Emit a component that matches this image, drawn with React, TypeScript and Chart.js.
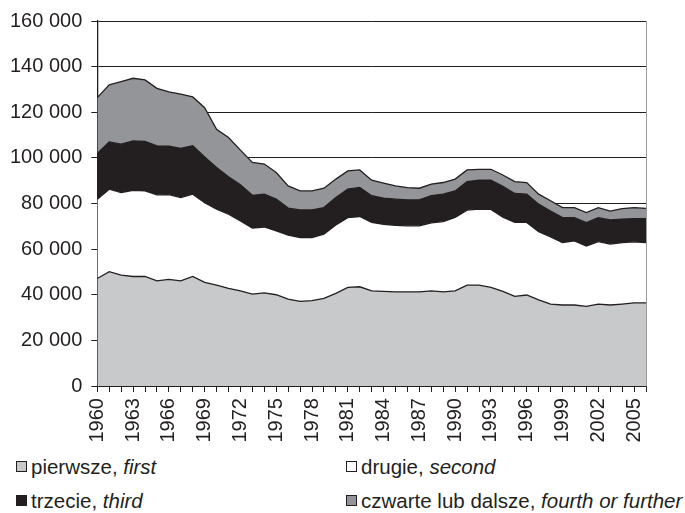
import React, { useEffect, useRef } from "react";
import { Chart, registerables } from "chart.js";

Chart.register(...registerables);

const years = [
  "1960", "1961", "1962", "1963", "1964", "1965", "1966", "1967", "1968", "1969",
  "1970", "1971", "1972", "1973", "1974", "1975", "1976", "1977", "1978", "1979",
  "1980", "1981", "1982", "1983", "1984", "1985", "1986", "1987", "1988", "1989",
  "1990", "1991", "1992", "1993", "1994", "1995", "1996", "1997", "1998", "1999",
  "2000", "2001", "2002", "2003", "2004", "2005", "2006",
];

const labeledYears = [
  "1960", "1963", "1966", "1969", "1972", "1975", "1978", "1981",
  "1984", "1987", "1990", "1993", "1996", "1999", "2002", "2005",
];

const first = [
  47100, 50100, 48600, 48000, 48000, 46100, 46700, 46100, 48000, 45400,
  44200, 42800, 41700, 40300, 40800, 40000, 38100, 37100, 37400, 38400,
  40600, 43200, 43500, 41700, 41500, 41300, 41300, 41300, 41700, 41300,
  41700, 44200, 44200, 43200, 41500, 39300, 39900, 37800, 35900, 35500,
  35500, 34900, 35900, 35500, 35900, 36400, 36400,
];

const second = [
  34800, 36200, 36200, 37800, 37500, 37700, 37200, 36500, 36100, 35000,
  33300, 32500, 30700, 28900, 28900, 28000, 28000, 28000, 27700, 28200,
  30000, 30600, 30800, 30000, 29400, 29100, 28900, 28900, 29800, 30800,
  32200, 32900, 33300, 34200, 32500, 32400, 31800, 29900, 29500, 27400,
  28100, 26500, 27400, 26700, 27000, 26800, 26500,
];

const third = [
  20000, 20700, 21200, 21600, 21700, 21500, 21200, 21600, 21200, 20000,
  18300, 16400, 15800, 14400, 14400, 13900, 11900, 12100, 12100, 11600,
  12000, 12500, 12700, 11700, 11400, 11500, 11400, 11400, 11900, 12000,
  11600, 12500, 12700, 12800, 13500, 12700, 12400, 12000, 11300, 10900,
  10200, 10200, 10500, 10600, 10200, 10200, 10500,
];

const fourth = [
  24500, 25000, 27400, 27500, 27000, 25200, 23800, 23700, 21400, 21600,
  16700, 17200, 15200, 14400, 13200, 11700, 9700, 8300, 8300, 8500,
  8100, 8000, 7700, 6800, 6600, 5800, 5400, 5100, 5100, 5100,
  5200, 5100, 4800, 4800, 5000, 5200, 5100, 4400, 4500, 4400,
  4400, 4400, 4400, 3900, 4700, 4800, 4500,
];

const seriesNames = [
  { pl: "pierwsze, ", en: "first" },
  { pl: "drugie, ", en: "second" },
  { pl: "trzecie, ", en: "third" },
  { pl: "czwarte lub dalsze, ", en: "fourth or further" },
];

const colors = ["#c8c9cb", "#ffffff", "#231f20", "#939598"];
const ink = "#231f20";
const font = "'Liberation Sans', Arial, sans-serif";
const tickLen = 6;

function fmt(v: number) {
  return String(v).replace(/\B(?=(\d{3})+(?!\d))/g, " ");
}

const rightBorder = {
  id: "rightBorder",
  afterDatasetsDraw(chart: any) {
    const { ctx, chartArea } = chart;
    ctx.save();
    ctx.strokeStyle = "#9a9a9a";
    ctx.lineWidth = 1;
    ctx.beginPath();
    ctx.moveTo(chartArea.right + 0.5, chartArea.top);
    ctx.lineTo(chartArea.right + 0.5, chartArea.bottom);
    ctx.stroke();
    ctx.restore();
  },
};

export default function App() {
  const ref = useRef<HTMLCanvasElement | null>(null);

  useEffect(() => {
    if (!ref.current) return;
    const data = [first, second, third, fourth];
    const chart = new Chart(ref.current, {
      type: "line",
      data: {
        labels: years,
        datasets: data.map((d, i) => ({
          label: seriesNames[i].pl + seriesNames[i].en,
          data: d,
          backgroundColor: colors[i],
          borderColor: ink,
          borderWidth: 1.3,
          pointRadius: 0,
          tension: 0,
          fill: i === 0 ? "origin" : "-1",
        })),
      },
      options: {
        animation: false,
        responsive: false,
        maintainAspectRatio: false,
        layout: { padding: { left: 1, right: 39, top: 14, bottom: 3.5 } },
        plugins: {
          legend: { display: false },
          tooltip: { enabled: false },
        },
        scales: {
          x: {
            offset: false,
            grid: {
              drawOnChartArea: false,
              drawTicks: true,
              tickLength: tickLen,
              color: ink,
            },
            border: { color: ink, width: 1.3 },
            ticks: {
              autoSkip: false,
              maxRotation: 90,
              minRotation: 90,
              padding: 6,
              color: ink,
              font: { family: font, size: 20 },
              callback: (_v: any, idx: number) =>
                labeledYears.includes(years[idx]) ? years[idx] : "",
            },
          },
          y: {
            stacked: true,
            min: 0,
            max: 160000,
            grid: { color: ink, lineWidth: 1, tickLength: tickLen },
            border: { color: ink, width: 1.3 },
            ticks: {
              stepSize: 20000,
              padding: 9,
              color: ink,
              font: { family: font, size: 20 },
              callback: (v: any) => fmt(Number(v)),
            },
          },
        },
      },
      plugins: [rightBorder],
    });
    return () => chart.destroy();
  }, []);

  const box = (c: string) => ({
    display: "inline-block",
    width: 9,
    height: 9,
    background: c,
    border: `1px solid ${ink}`,
    marginRight: 4,
    verticalAlign: "middle",
    position: "relative" as const,
    top: -2,
  });

  const item = (i: number, left: number, top: number) => (
    <div
      key={i}
      style={{
        position: "absolute",
        left,
        top,
        fontFamily: font,
        fontSize: 20.5,
        color: ink,
        whiteSpace: "nowrap",
        lineHeight: "22px",
      }}
    >
      <span style={box(colors[i])} />
      {seriesNames[i].pl}
      <i>{seriesNames[i].en}</i>
    </div>
  );

  return (
    <div style={{ position: "fixed", left: 0, top: 0, width: 685, height: 513, background: "#fff" }}>
      <canvas ref={ref} width={685} height={452} style={{ position: "absolute", left: 0, top: 0 }} />
      {item(0, 16, 456)}
      {item(1, 346, 456)}
      {item(2, 16, 490)}
      {item(3, 346, 490)}
    </div>
  );
}
